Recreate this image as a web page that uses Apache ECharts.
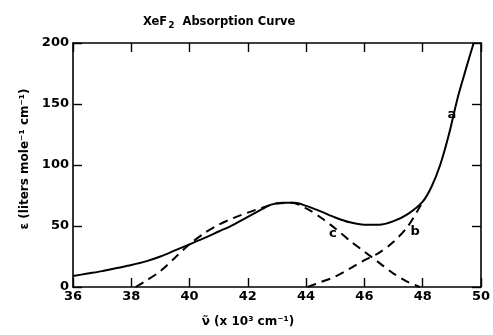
<!DOCTYPE html>
<html><head><meta charset="utf-8">
<script src="https://cdn.jsdelivr.net/npm/echarts@6/dist/echarts.min.js"></script>
<style>html,body{margin:0;padding:0;background:#fff}#c{width:493px;height:335px}</style>
</head><body><div id="c"></div>
<script>
var xTicks = [36, 38, 40, 42, 44, 46, 48, 50];
var yTicks = [0, 50, 100, 150, 200];
// curve a (solid, total absorption)
var aX = [36, 36.5, 37, 37.5, 38, 38.5, 39, 39.5, 40, 40.5, 41, 41.5, 42, 42.5, 42.8, 43.2, 43.6, 44, 44.5, 45, 45.5, 46, 46.5, 47, 47.5, 48, 48.3, 48.6, 48.9, 49.2, 49.5, 49.75];
var aY = [9, 11, 13, 15.5, 18, 21, 25, 30, 35, 40, 45.5, 51, 57.5, 64, 67.5, 69, 69, 66.5, 62, 57, 53, 51, 51, 54, 60, 70, 82, 100, 125, 155, 180, 200];
// curve c (dashed, first band)
var cX = [38.15, 38.5, 39, 39.5, 40, 40.5, 41, 41.5, 42, 42.5, 43, 43.5, 44, 44.5, 45, 45.5, 46, 46.5, 47, 47.5, 47.9];
var cY = [0, 5, 13, 24, 35, 44, 51, 56.5, 61, 65, 68.5, 69, 64.5, 57, 48, 38, 29, 20, 11, 4, 0];
// curve b (dashed, second band)
var bX = [44.05, 44.5, 45, 45.5, 46, 46.5, 47, 47.5, 48];
var bY = [0, 4, 8.5, 15, 22, 28, 37, 50, 70];
// curve labels
var labelNames = ['a', 'b', 'c'];
var labelX = [49.0, 47.74, 44.92];
var labelY = [141, 45, 44];

function pairs(xs, ys){ return xs.map(function(x,i){ return [x, ys[i]]; }); }

var FONT = 'DejaVu Sans';
var chart = echarts.init(document.getElementById('c'));
var axisLine = {show: true, onZero: false, lineStyle: {color: '#000', width: 1.6}};
var tick = {show: true, inside: true, length: 9, lineStyle: {color: '#000', width: 1.4}};
var lineStyleBase = {color: '#000', width: 2};

chart.setOption({
  animation: false,
  backgroundColor: '#fff',
  title: {
    text: 'XeF{sub|2}  Absorption Curve',
    left: 138, top: 10,
    textStyle: {
      fontFamily: FONT, fontSize: 11.5, fontWeight: 'bold', color: '#000',
      rich: {sub: {fontFamily: FONT, fontSize: 9, fontWeight: 'bold', color: '#000', padding: [6, 0, 0, 1]}}
    }
  },
  grid: {left: 73, right: 12, top: 43, bottom: 48},
  xAxis: [{
    type: 'value', min: 36, max: 50, interval: 2,
    axisLine: axisLine, axisTick: tick, splitLine: {show: false},
    axisLabel: {color: '#000', fontFamily: FONT, fontSize: 13, fontWeight: 'bold', margin: 3,
      formatter: function(v){ return xTicks.indexOf(v) >= 0 ? String(v) : ''; }},
    name: 'ν̃ (x 10³ cm⁻¹)', nameLocation: 'middle', nameGap: 29,
    nameTextStyle: {color: '#000', fontFamily: FONT, fontSize: 12, fontWeight: 'bold', padding: [0, 58, 0, 0]}
  }, {
    type: 'value', min: 36, max: 50, interval: 2, position: 'top',
    axisLine: axisLine, axisTick: tick, axisLabel: {show: false}, splitLine: {show: false}
  }],
  yAxis: [{
    type: 'value', min: 0, max: 200, interval: 50,
    axisLine: axisLine, axisTick: tick, splitLine: {show: false},
    axisLabel: {color: '#000', fontFamily: FONT, fontSize: 13, fontWeight: 'bold', margin: 4,
      formatter: function(v){ return yTicks.indexOf(v) >= 0 ? String(v) : ''; }},
    name: 'ε (liters mole⁻¹ cm⁻¹)', nameLocation: 'middle', nameGap: 37, nameRotate: 90,
    nameTextStyle: {color: '#000', fontFamily: FONT, fontSize: 12, fontWeight: 'bold', padding: [0, 0, 0, 12]}
  }, {
    type: 'value', min: 0, max: 200, interval: 50, position: 'right',
    axisLine: axisLine, axisTick: tick, axisLabel: {show: false}, splitLine: {show: false}
  }],
  series: [{
    type: 'line', data: pairs(aX, aY), smooth: 0.3, symbol: 'none', clip: true,
    lineStyle: lineStyleBase, z: 3,
    markPoint: {
      symbol: 'circle', symbolSize: 0,
      label: {show: true, color: '#000', fontFamily: FONT, fontSize: 13, fontWeight: 'bold', formatter: '{b}', position: 'inside'},
      data: labelNames.map(function(n, i){ return {name: n, coord: [labelX[i], labelY[i]]}; })
    }
  }, {
    type: 'line', data: pairs(cX, cY), smooth: 0.3, symbol: 'none',
    lineStyle: {color: '#000', width: 2, type: [9, 6]}, z: 2
  }, {
    type: 'line', data: pairs(bX, bY), smooth: 0.3, symbol: 'none',
    lineStyle: {color: '#000', width: 2, type: [9, 6]}, z: 2
  }]
});
</script></body></html>
